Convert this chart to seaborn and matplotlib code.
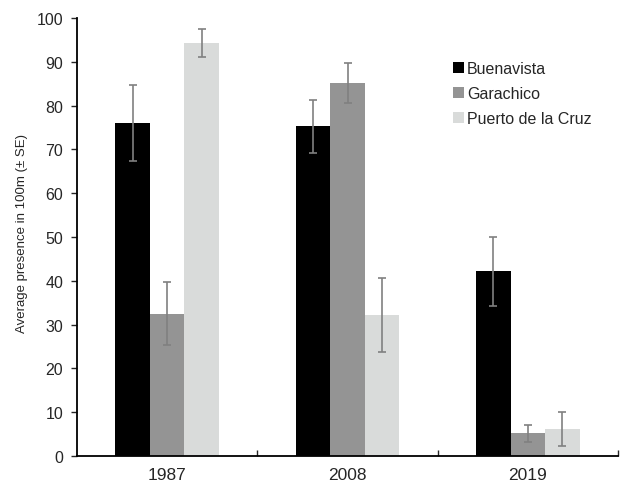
import pandas as pd
import matplotlib.pyplot as plt
import numpy as np
import seaborn as sns
from matplotlib.patches import Patch

# Data
years = ["1987", "2008", "2019"]
sites = ["Buenavista", "Garachico", "Puerto de la Cruz"]
buenavista = [76.0, 75.3, 42.2]
garachico = [32.5, 85.2, 5.2]
puerto = [94.2, 32.2, 6.2]
buenavista_se = [8.7, 6.0, 7.9]
garachico_se = [7.2, 4.5, 1.9]
puerto_se = [3.2, 8.5, 3.9]

colors = ["#000000", "#949494", "#d9dbda"]

df = pd.DataFrame({
    "Year": years * 3,
    "Site": [s for s in sites for _ in years],
    "Value": buenavista + garachico + puerto,
    "SE": buenavista_se + garachico_se + puerto_se,
})

sns.set_style("white")
plt.rcParams["font.family"] = ["Liberation Sans", "DejaVu Sans"]

fig = plt.figure(figsize=(6.38, 4.89), dpi=100)
ax = fig.add_axes([0.1207, 0.0654, 0.848, 0.8956])

sns.barplot(data=df, x="Year", y="Value", hue="Site", order=years, hue_order=sites,
            palette=colors, errorbar=None, width=0.575, saturation=1,
            linewidth=0, ax=ax, legend=False)

# Error bars on each bar (patches come in hue order)
for i, site in enumerate(sites):
    sub = df[df["Site"] == site].set_index("Year").loc[years]
    bars = ax.patches[i * len(years):(i + 1) * len(years)]
    xs = [b.get_x() + b.get_width() / 2 for b in bars]
    ax.errorbar(xs, sub["Value"].values, yerr=sub["SE"].values, fmt="none",
                ecolor="#808080", elinewidth=1.2, capsize=3, capthick=1.2)

ax.set_xlim(-0.5, 2.5)
ax.set_ylim(0, 100)
ax.set_yticks(np.arange(0, 101, 10))
ax.set_xlabel("")
ax.set_ylabel("Average presence in 100m (\u00b1 SE)", fontsize=9.5, labelpad=5)
ax.yaxis.set_label_coords(-0.09, 0.51)

ax.spines["top"].set_visible(False)
ax.spines["right"].set_visible(False)
for s in ["left", "bottom"]:
    ax.spines[s].set_color("black")
    ax.spines[s].set_linewidth(1.3)

ax.tick_params(axis="y", direction="out", length=4, width=1, labelsize=11.5,
               left=True, pad=6)
ax.tick_params(axis="x", which="major", length=0, labelsize=12.5, pad=8)
ax.set_xticks([0.5, 1.5, 2.5], minor=True)
ax.tick_params(axis="x", which="minor", direction="in", length=4, width=1, bottom=True)

handles = [Patch(facecolor=c, edgecolor="none") for c in colors]
fig.legend(handles, sites, loc="upper left", bbox_to_anchor=(0.688, 0.902),
           frameon=False, fontsize=11.5, handlelength=0.7, handleheight=0.7,
           handletextpad=0.15, labelspacing=0.62)

plt.savefig("out.png", dpi=100)
